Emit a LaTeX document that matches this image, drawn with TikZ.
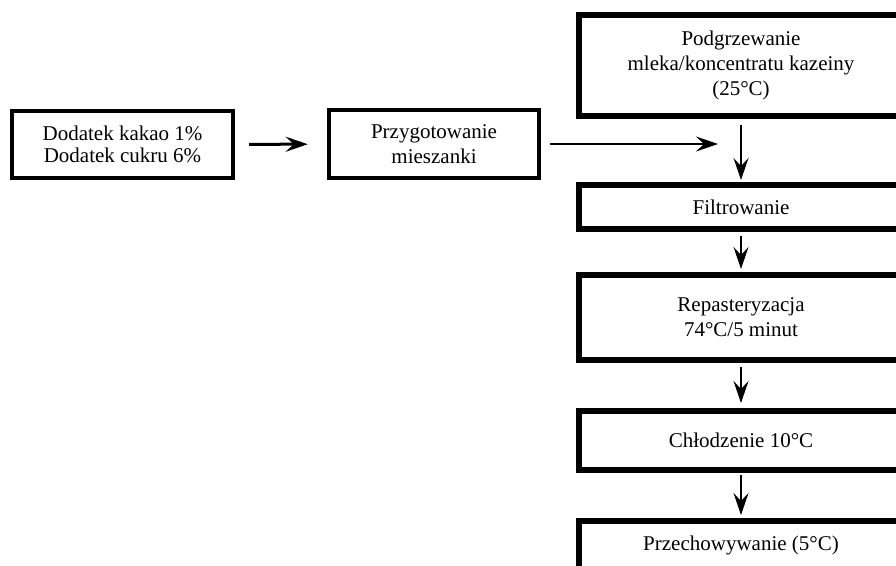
\documentclass[tikz,border=0pt]{standalone}
\usepackage{fontspec}
\setmainfont{Liberation Serif}
\usetikzlibrary{arrows.meta,positioning}
\tikzset{
  box/.style={draw, line width=4pt, align=center, font=\fontsize{21}{25}\selectfont},
  stepbox/.style={box, line width=6pt, minimum width=324pt},
  arr/.style={-{Stealth[length=22pt,width=15pt,inset=8pt]}, line width=2pt, shorten <=4pt, shorten >=3pt},
}

\begin{document}
\begin{tikzpicture}[x=1pt,y=-1pt]
        \useasboundingbox (0,0) rectangle (896,565);
        \node[box, minimum width=221pt, minimum height=67pt, font=\fontsize{21}{22}\selectfont] (dodatek) at (122.5,144.5) {Dodatek kakao 1\%\\Dodatek cukru 6\%};
        \node[box, line width=4.5pt, minimum width=210pt, minimum height=68pt] (mieszanka) at (434,144) {Przygotowanie\\mieszanki};
        \node[stepbox, minimum height=101pt] (podgrzew) at (741,65.5) {Podgrzewanie\\mleka/koncentratu kazeiny\\(25°C)};
        \node[stepbox, minimum height=44pt] (filtr) at (741,207) {Filtrowanie};
        \node[stepbox, minimum height=85pt] (repast) at (741,317.5) {Repasteryzacja\\74°C/5 minut};
        \node[stepbox, minimum height=59pt] (chlodz) at (741,440.5) {Chłodzenie 10°C};
        \node[stepbox, minimum height=48pt] (przech) at (741,545) {Przechowywanie (5°C)};
        \coordinate (wlot) at (718,144);
        \draw[arr, line width=3pt, shorten <=14pt, shorten >=19pt] (dodatek)--(mieszanka);
        \draw[arr, shorten <=9pt, shorten >=0pt] (mieszanka.east |- wlot)--(wlot);
        \draw[arr, shorten <=6pt, shorten >=2pt] (podgrzew)--(filtr);
        \draw[arr] (filtr)--(repast);
        \draw[arr, shorten >=5pt] (repast)--(chlodz);
        \draw[arr, shorten <=2pt] (chlodz)--(przech);
      \end{tikzpicture}
\end{document}
